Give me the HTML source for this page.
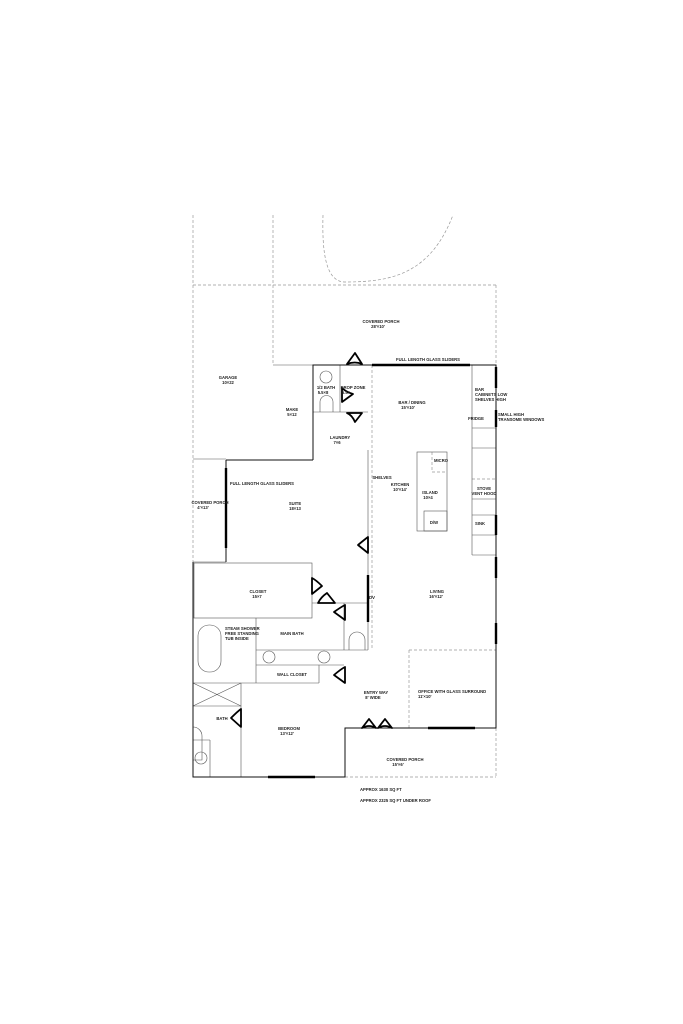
<!DOCTYPE html>
<html><head><meta charset="utf-8"><style>
html,body{margin:0;padding:0;background:#fff;}
svg{display:block;}
text{font-family:"Liberation Sans Narrow","Liberation Sans",sans-serif;font-size:4.2px;fill:#222;font-weight:bold;}
</style></head><body>
<svg width="683" height="1024" viewBox="0 0 683 1024" xmlns="http://www.w3.org/2000/svg">
<g fill="none" stroke="#999" stroke-width="0.7" stroke-dasharray="3,2">
<line x1="193" y1="215" x2="193" y2="562"/>
<line x1="273" y1="215" x2="273" y2="365"/>
<line x1="193" y1="285" x2="496" y2="285"/>
<line x1="496" y1="285" x2="496" y2="365"/>
<path d="M323 215 C322 250 325 282 345 282 C390 282 430 275 453 215"/>
<line x1="345" y1="777" x2="496" y2="777"/>
<line x1="496" y1="728" x2="496" y2="777"/>
<line x1="372" y1="365" x2="372" y2="650"/>
<line x1="409" y1="650" x2="496" y2="650"/>
<line x1="409" y1="650" x2="409" y2="728"/>
<line x1="432" y1="452" x2="432" y2="472"/>
<line x1="432" y1="472" x2="447" y2="472"/>
<line x1="472" y1="479" x2="496" y2="479"/>
</g>
<g fill="none" stroke="#555" stroke-width="0.6">
<line x1="273" y1="365" x2="313" y2="365"/>
<line x1="193" y1="459" x2="226" y2="459"/>
<line x1="193" y1="562" x2="226" y2="562"/>
<line x1="340" y1="365" x2="340" y2="412"/>
<line x1="313" y1="412" x2="368" y2="412"/>
<rect x="194" y="563" width="118" height="55"/>
<line x1="312" y1="603" x2="368" y2="603"/>
<line x1="344" y1="603" x2="344" y2="650"/>
<line x1="256" y1="618" x2="256" y2="683"/>
<line x1="256" y1="650" x2="368" y2="650"/>
<line x1="256" y1="665" x2="344" y2="665"/>
<line x1="319" y1="665" x2="319" y2="683"/>
<line x1="193" y1="683" x2="319" y2="683"/>
<line x1="241" y1="683" x2="241" y2="777"/>
<line x1="193" y1="706" x2="241" y2="706"/>
<line x1="193" y1="683" x2="241" y2="706"/>
<line x1="241" y1="683" x2="193" y2="706"/>
<line x1="193" y1="740" x2="210" y2="740"/>
<line x1="210" y1="740" x2="210" y2="777"/>
<rect x="198" y="625" width="23" height="47" rx="11"/>
<circle cx="326" cy="377" r="6"/>
<path d="M320 412 V402 A6.5 6.5 0 0 1 333 402 V412"/>
<path d="M349 650 V640 A8 8 0 0 1 365 640 V650"/>
<circle cx="269" cy="657" r="6"/>
<circle cx="324" cy="657" r="6"/>
<path d="M193 760 H202 V736 A9 9 0 0 0 193 727"/>
<circle cx="201" cy="758" r="6"/>
<rect x="417" y="452" width="30" height="79"/>
<rect x="424" y="511" width="23" height="20"/>
<line x1="472" y1="365" x2="472" y2="555"/>
<line x1="472" y1="555" x2="496" y2="555"/>
<line x1="472" y1="428" x2="496" y2="428"/>
<line x1="472" y1="448" x2="496" y2="448"/>
<line x1="472" y1="499" x2="496" y2="499"/>
<line x1="472" y1="515" x2="496" y2="515"/>
<line x1="472" y1="535" x2="496" y2="535"/>
<line x1="368" y1="450" x2="368" y2="650"/>
</g>
<g fill="none" stroke="#111" stroke-width="1">
<polyline points="313,460 313,365 496,365 496,728 345,728 345,777 193,777 193,562"/>
<polyline points="226,460 313,460"/>
<line x1="226" y1="460" x2="226" y2="562"/>
</g>
<g stroke="#000" stroke-width="2.4">
<line x1="372" y1="365" x2="470" y2="365"/>
<line x1="496" y1="367" x2="496" y2="388"/>
<line x1="496" y1="410" x2="496" y2="427"/>
<line x1="496" y1="515" x2="496" y2="535"/>
<line x1="496" y1="557" x2="496" y2="578"/>
<line x1="496" y1="623" x2="496" y2="644"/>
<line x1="428" y1="728" x2="475" y2="728"/>
<line x1="268" y1="777" x2="315" y2="777"/>
<line x1="226" y1="468" x2="226" y2="548"/>
<line x1="368" y1="575" x2="368" y2="622"/>
</g>
<g fill="none" stroke="#000" stroke-width="1.8" stroke-linejoin="round">
<path d="M347 364 L355 353 L362 364 Q355 361 347 364Z"/>
<path d="M342 388 L342 402 L353 394 Q346 392 342 388Z"/>
<path d="M347 413 L362 413 L355 422 Q352 415 347 413Z"/>
<path d="M368 537 L368 553 L358 545 Q364 540 368 537Z"/>
<path d="M312 578 L312 594 L322 586 Q316 580 312 578Z"/>
<path d="M318 603 L335 603 L327 593 Q321 597 318 603Z"/>
<path d="M345 605 L345 620 L334 612 Q341 607 345 605Z"/>
<path d="M345 667 L345 683 L334 675 Q341 669 345 667Z"/>
<path d="M241 709 L241 727 L231 718 Q238 711 241 709Z"/>
<path d="M362 728 L369 719 L376 728 Q369 724 362 728Z"/>
<path d="M378 728 L385 719 L392 728 Q385 724 378 728Z"/>
</g>
<g text-anchor="middle">
<text x="381" y="323">COVERED PORCH</text><text x="378" y="328">28'×10'</text>
<text x="428" y="361">FULL LENGTH GLASS SLIDERS</text>
<text x="228" y="379">GARAGE</text><text x="228" y="384">10×22</text>
<text x="292" y="411">MAKE</text><text x="292" y="416">5×12</text>
<text x="326" y="389">1/2 BATH</text><text x="323" y="394">5.5×8</text>
<text x="353" y="389">DROP ZONE</text><text x="346" y="394">5.5×</text>
<text x="412" y="404">BAR / DINING</text><text x="408" y="409">15'×10'</text>
<text x="476" y="420">FRIDGE</text>
<text x="340" y="439">LAUNDRY</text><text x="337" y="444">7×6</text>
<text x="441" y="462">MICRO</text>
<text x="382" y="479">SHELVES</text>
<text x="400" y="486">KITCHEN</text><text x="400" y="491">10'×14'</text>
<text x="430" y="494">ISLAND</text><text x="428" y="499">10×4</text>
<text x="434" y="524">D/W</text>
<text x="484" y="490">STOVE</text><text x="484" y="495">VENT HOOD</text>
<text x="480" y="525">SINK</text>
<text x="262" y="485">FULL LENGTH GLASS SLIDERS</text>
<text x="295" y="505">SUITE</text><text x="295" y="510">18×13</text>
<text x="210" y="504">COVERED PORCH</text><text x="203" y="509">4'×13'</text>
<text x="258" y="593">CLOSET</text><text x="257" y="598">15×7</text>
<text x="437" y="593">LIVING</text><text x="436" y="598">16'×12'</text>
<text x="372" y="599">DV</text>
<text x="292" y="635">MAIN BATH</text>
<text x="292" y="676">WALL CLOSET</text>
<text x="222" y="720">BATH</text>
<text x="376" y="694">ENTRY WAY</text><text x="373" y="699">8' WIDE</text>
<text x="289" y="730">BEDROOM</text><text x="287" y="735">13'×12'</text>
<text x="405" y="761">COVERED PORCH</text><text x="398" y="766">15'×6'</text>
</g>
<g>
<text x="475" y="391">BAR</text><text x="475" y="396">CABINETS LOW</text><text x="475" y="401">SHELVES HIGH</text>
<text x="498" y="416">SMALL HIGH</text><text x="498" y="421">TRANSOME WINDOWS</text>
<text x="225" y="630">STEAM SHOWER</text><text x="225" y="635">FREE STANDING</text><text x="225" y="640">TUB INSIDE</text>
<text x="418" y="693">OFFICE WITH GLASS SURROUND</text><text x="418" y="698">11'×10'</text>
<text x="360" y="791">APPROX 1630 SQ FT</text>
<text x="360" y="802">APPROX 2325 SQ FT UNDER ROOF</text>
</g>
</svg>
</body></html>
